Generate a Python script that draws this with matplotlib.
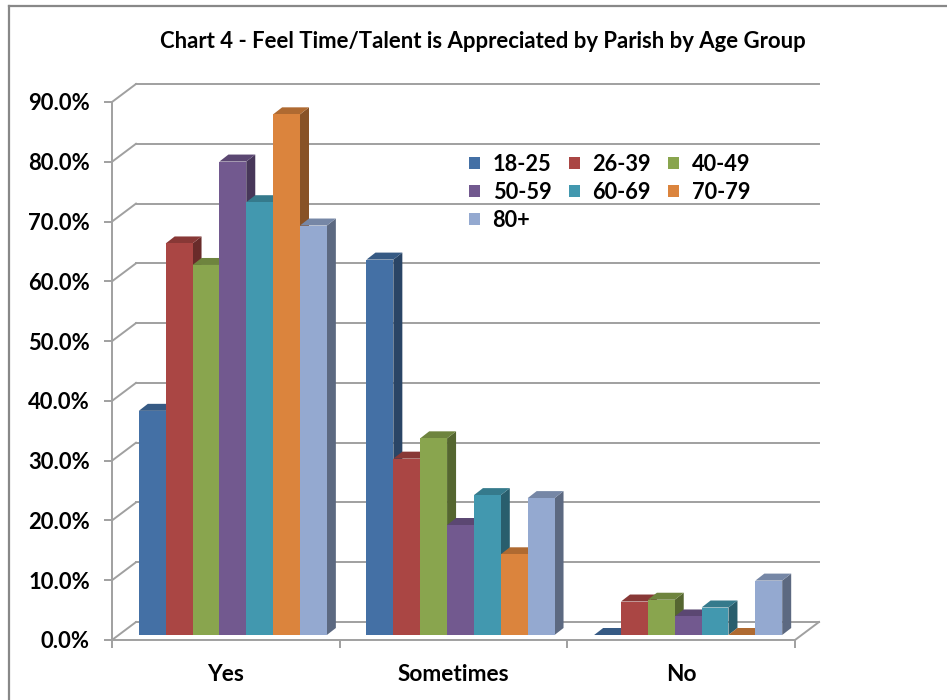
import matplotlib
matplotlib.use("Agg")
import matplotlib.pyplot as plt
from matplotlib.patches import Polygon, Patch
from matplotlib.lines import Line2D
import numpy as np

# Survey results (% of respondents)
categories = ['Yes', 'Sometimes', 'No']
age_groups = ['18-25', '26-39', '40-49', '50-59', '60-69', '70-79', '80+']
pct_18_25 = [37.5, 62.8, 0.0]
pct_26_39 = [65.5, 29.5, 5.6]
pct_40_49 = [61.9, 32.9, 5.9]
pct_50_59 = [79.2, 18.4, 3.1]
pct_60_69 = [72.4, 23.4, 4.6]
pct_70_79 = [87.1, 13.5, 0.0]
pct_80_up = [68.5, 22.9, 9.1]
series = [pct_18_25, pct_26_39, pct_40_49, pct_50_59, pct_60_69, pct_70_79, pct_80_up]
colors = ['#4470A5', '#AA4644', '#89A54E', '#72598F', '#4298AF', '#DB843D', '#94A9D0']

plt.rcParams['font.family'] = ['Lato', 'DejaVu Sans']
plt.rcParams['font.weight'] = 'bold'

W, H = 947, 700
fig = plt.figure(figsize=(W / 100, H / 100), dpi=100)
ax = fig.add_axes([112 / W, 60 / H, 683 / W, 538 / H])
ax.set_xlim(-0.5, 2.5)
ax.set_ylim(0, 90)

# pixel -> data unit conversion
ppx = 683 / 3.0
ppy = 538 / 90.0
grid_c = '#a0a0a0'

# back wall offset and bar plane offset
bdx, bdy = 24 / ppx, 18 / ppy
fdx, fdy = 7 / ppx, 5 / ppy
sdx, sdy = 9 / ppx, 7 / ppy

# back wall gridlines and left wall diagonals
for v in range(0, 91, 10):
    ax.plot([-0.5 + bdx, 2.5 + bdx], [v + bdy, v + bdy], color=grid_c, lw=1.4, clip_on=False, zorder=1)
    ax.plot([-0.5, -0.5 + bdx], [v, v + bdy], color=grid_c, lw=1.4, clip_on=False, zorder=1)
# floor right edge
ax.plot([2.5, 2.5 + bdx], [0, bdy], color=grid_c, lw=1.4, clip_on=False, zorder=1)


def shade(c, f):
    rgb = np.array(matplotlib.colors.to_rgb(c))
    return tuple(rgb * f)


bw = 0.118
n = len(series)
for i in range(len(categories)):
    for j, (vals, c) in enumerate(zip(series, colors)):
        x0 = i - n * bw / 2 + j * bw + fdx
        x1 = x0 + bw
        b = fdy
        t = fdy + vals[i]
        side = [(x1, b), (x1 + sdx, b + sdy), (x1 + sdx, t + sdy), (x1, t)]
        top = [(x0, t), (x1, t), (x1 + sdx, t + sdy), (x0 + sdx, t + sdy)]
        front = [(x0, b), (x1, b), (x1, t), (x0, t)]
        z = 3 + i * 10 + j
        ax.add_patch(Polygon(side, closed=True, fc=shade(c, 0.62), ec='none', zorder=z, clip_on=False))
        ax.add_patch(Polygon(top, closed=True, fc=shade(c, 0.8), ec='none', zorder=z, clip_on=False))
        ax.add_patch(Polygon(front, closed=True, fc=c, ec='none', zorder=z, clip_on=False))

for s in ['top', 'right']:
    ax.spines[s].set_visible(False)
for s in ['left', 'bottom']:
    ax.spines[s].set_color(grid_c)
    ax.spines[s].set_linewidth(1.4)
    ax.spines[s].set_zorder(2)

ax.set_yticks(range(0, 91, 10))
ax.set_yticklabels(['%.1f%%' % v for v in range(0, 91, 10)], fontsize=15.8, fontweight='bold')
ax.tick_params(axis='y', length=6, width=1.4, color=grid_c, pad=10)
ax.set_xticks([-0.5, 0.5, 1.5, 2.5])
ax.set_xticklabels([])
ax.tick_params(axis='x', which='major', length=6, width=1.4, color=grid_c)
ax.set_xticks([0, 1, 2], minor=True)
ax.set_xticklabels(categories, minor=True, fontsize=16.3, fontweight='bold')
ax.tick_params(axis='x', which='minor', length=0, pad=17)
ax.patch.set_visible(False)

# legend laid out row by row
order = [0, 3, 6, 1, 4, 2, 5]
handles = [Patch(facecolor=colors[k], edgecolor='none') for k in order]
labels = [age_groups[k] for k in order]
fig.legend(handles, labels, ncol=3, loc='upper left', bbox_to_anchor=(469 / W, 1 - 154 / H),
           frameon=False, handlelength=0.5, handleheight=0.5, handletextpad=0.58,
           columnspacing=0.8, labelspacing=0.32, borderaxespad=0, borderpad=0,
           prop={'weight': 'bold', 'size': 15.7})

fig.text(483 / W, 1 - 42 / H, 'Chart 4 - Feel Time/Talent is Appreciated by Parish by Age Group',
         ha='center', va='center', fontsize=15.9, fontweight='bold')

# chart area border
fig.add_artist(Line2D([9 / W, 1], [1 - 6 / H, 1 - 6 / H], transform=fig.transFigure, color='#888888', lw=1.6))
fig.add_artist(Line2D([9 / W, 9 / W], [0, 1 - 6 / H], transform=fig.transFigure, color='#888888', lw=1.6))

fig.savefig('out.png', dpi=100)
